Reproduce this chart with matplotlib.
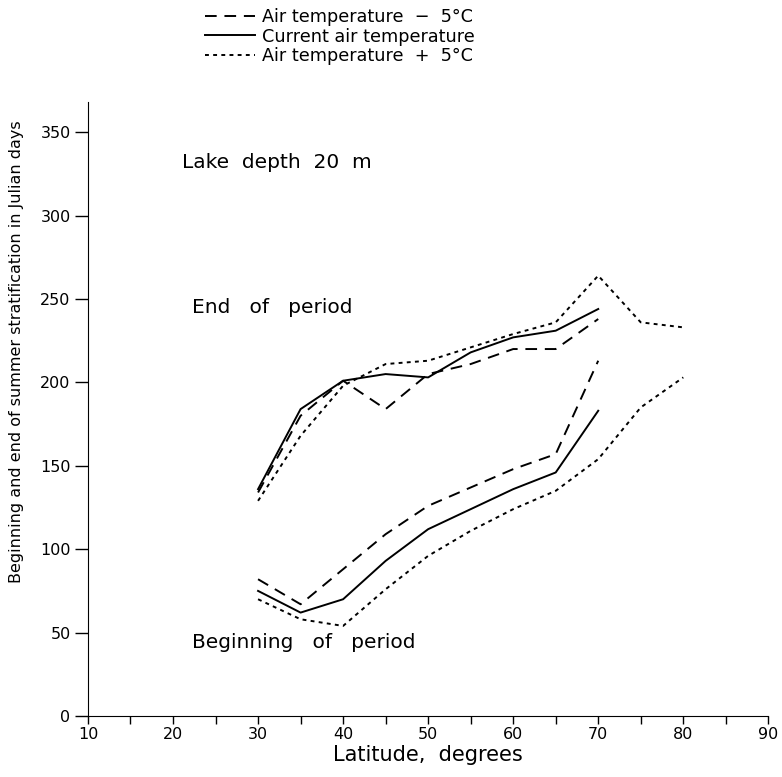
import matplotlib.pyplot as plt
from matplotlib.lines import Line2D

plt.rcParams['font.family'] = 'DejaVu Sans'

# latitudes
lat = [30, 35, 40, 45, 50, 55, 60, 65, 70]
lat_warm = [30, 35, 40, 45, 50, 55, 60, 65, 70, 75, 80]

# end of period
end_cold = [134, 180, 201, 184, 205, 211, 220, 220, 238]
end_now = [136, 184, 201, 205, 203, 218, 227, 231, 244]
end_warm = [129, 168, 198, 211, 213, 221, 229, 236, 264, 236, 233]

# beginning of period
beg_cold = [82, 67, 88, 109, 126, 137, 148, 157, 213]
beg_now = [75, 62, 70, 93, 112, 124, 136, 146, 183]
beg_warm = [70, 58, 54, 76, 96, 111, 124, 135, 154, 185, 203]

labels = ['Air temperature  \u2212  5\u00b0C', 'Current air temperature',
          'Air temperature  +  5\u00b0C']

fig = plt.figure(figsize=(7.82, 7.77), dpi=100)
ax = fig.add_axes([0.1125, 0.0785, 0.87, 0.79])

dash = (6, 4)
dot = (2, 2.2)
lw = 1.4
ax.plot(lat, end_cold, color='black', lw=lw, dashes=dash)
ax.plot(lat, end_now, color='black', lw=lw)
ax.plot(lat_warm, end_warm, color='black', lw=lw, dashes=dot)
ax.plot(lat, beg_cold, color='black', lw=lw, dashes=dash)
ax.plot(lat, beg_now, color='black', lw=lw)
ax.plot(lat_warm, beg_warm, color='black', lw=lw, dashes=dot)

ax.set_xlim(10, 90)
ax.set_ylim(0, 368)
ax.set_xticks(range(10, 91, 10))
ax.set_xticks(range(15, 90, 10), minor=True)
ax.set_yticks(range(0, 351, 50))
ax.spines['top'].set_visible(False)
ax.spines['right'].set_visible(False)
ax.tick_params(axis='y', which='major', direction='out', length=9.5, width=1,
               labelsize=11.5, pad=3)
ax.tick_params(axis='x', which='both', direction='out', length=6, width=1,
               labelsize=11.5, pad=2)
ax.set_xlabel('Latitude,  degrees', fontsize=15, labelpad=2)
ax.set_ylabel('Beginning and end of summer stratification in Julian days',
              fontsize=11.5)
ax.yaxis.set_label_coords(-0.094, 0.594)

ax.text(21.1, 332, 'Lake  depth  20  m', fontsize=14.5, va='center')
ax.text(22.2, 245, 'End   of   period', fontsize=14.5, va='center')
ax.text(22.2, 44, 'Beginning   of   period', fontsize=14.5, va='center')

handles = [Line2D([], [], color='black', lw=lw, dashes=dash),
           Line2D([], [], color='black', lw=lw),
           Line2D([], [], color='black', lw=lw, dashes=dot)]
fig.legend(handles, labels, loc='upper left', bbox_to_anchor=(0.262, 0.99),
           frameon=False, fontsize=12.7, handlelength=2.85, handletextpad=0.4,
           labelspacing=0.1, borderpad=0, borderaxespad=0)

fig.savefig('out.png', dpi=100)
